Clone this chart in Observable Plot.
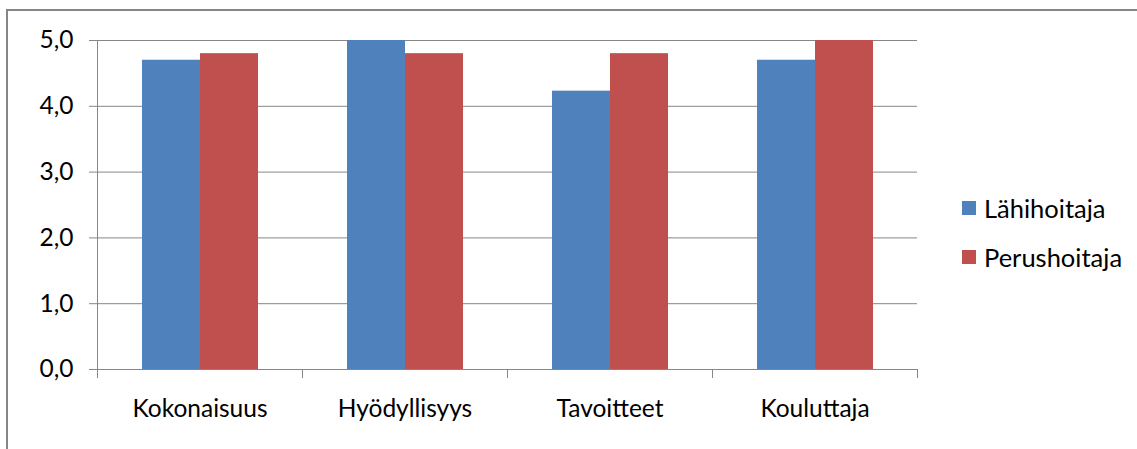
<!DOCTYPE html>
<html>
<head>
<meta charset="utf-8">
<script src="https://cdn.jsdelivr.net/npm/d3@7"></script>
<script src="https://cdn.jsdelivr.net/npm/@observablehq/plot@0.6"></script>
<style>
  html, body { margin: 0; padding: 0; background: #fff; }
  #wrap { position: relative; width: 1137px; height: 449px; overflow: hidden; font-family: Lato, "Noto Sans", sans-serif; }
  #border { position: absolute; left: 6px; top: 9px; right: -5px; bottom: -5px; border-left: 2px solid #868686; border-top: 2px solid #868686; }
  #chart { position: absolute; left: 0; top: 0; }
  #chart svg text { fill: #000; }
  #legend { position: absolute; left: 962px; top: 192px; font-size: 25.5px; color: #000; }
  .item { display: flex; align-items: center; height: 32px; margin-bottom: 17px; }
  .sw { width: 14px; height: 14px; margin-right: 8px; }
</style>
</head>
<body>
<div id="wrap">
  <div id="border"></div>
  <div id="chart"></div>
  <div id="legend"></div>
</div>
<script>
const categories = ["Kokonaisuus", "Hyödyllisyys", "Tavoitteet", "Kouluttaja"];
const series = ["Lähihoitaja", "Perushoitaja"];
const lahihoitaja = [4.7, 5.0, 4.23, 4.7];
const perushoitaja = [4.8, 4.8, 4.8, 5.0];
const colors = ["#4F81BD", "#C0504D"];
const yTicks = [0, 1, 2, 3, 4, 5];

const seriesValues = [lahihoitaja, perushoitaja];
const data = [];
categories.forEach((c, i) => {
  series.forEach((s, j) => data.push({category: c, series: s, value: seriesValues[j][i]}));
});

const fmt = d => d.toFixed(1).replace(".", ",");

const plot = Plot.plot({
  width: 1137,
  height: 449,
  marginLeft: 96,
  marginRight: 219,
  marginTop: 40,
  marginBottom: 80,
  style: {color: "#868686", fontFamily: "Lato, 'Noto Sans', sans-serif", fontSize: "24.5px", background: "transparent"},
  fx: {domain: categories, padding: 0, label: null, tickSize: 0, tickPadding: 30, axis: "bottom"},
  x: {domain: series, paddingInner: 0, paddingOuter: 0.75, axis: null},
  y: {domain: [0, 5], ticks: yTicks, tickFormat: fmt, tickSize: 8, tickPadding: 16, label: null, line: true},
  color: {domain: series, range: colors},
  marks: [
    Plot.gridY(yTicks, {stroke: "#868686", strokeOpacity: 1}),
    Plot.barY(data, {fx: "category", x: "series", y: "value", fill: "series"}),
    Plot.frame({anchor: "left", insetTop: 329, insetBottom: -8, stroke: "#868686"}),
    Plot.frame({anchor: "right", insetTop: 329, insetBottom: -8, stroke: "#868686"})
  ]
});
document.getElementById("chart").appendChild(plot);

const colorScale = plot.scale("color");
const legend = document.getElementById("legend");
colorScale.domain.forEach((s, i) => {
  const item = document.createElement("div");
  item.className = "item";
  const sw = document.createElement("div");
  sw.className = "sw";
  sw.style.background = colorScale.range[i];
  const label = document.createElement("span");
  label.textContent = s;
  item.appendChild(sw);
  item.appendChild(label);
  legend.appendChild(item);
});
</script>
</body>
</html>
